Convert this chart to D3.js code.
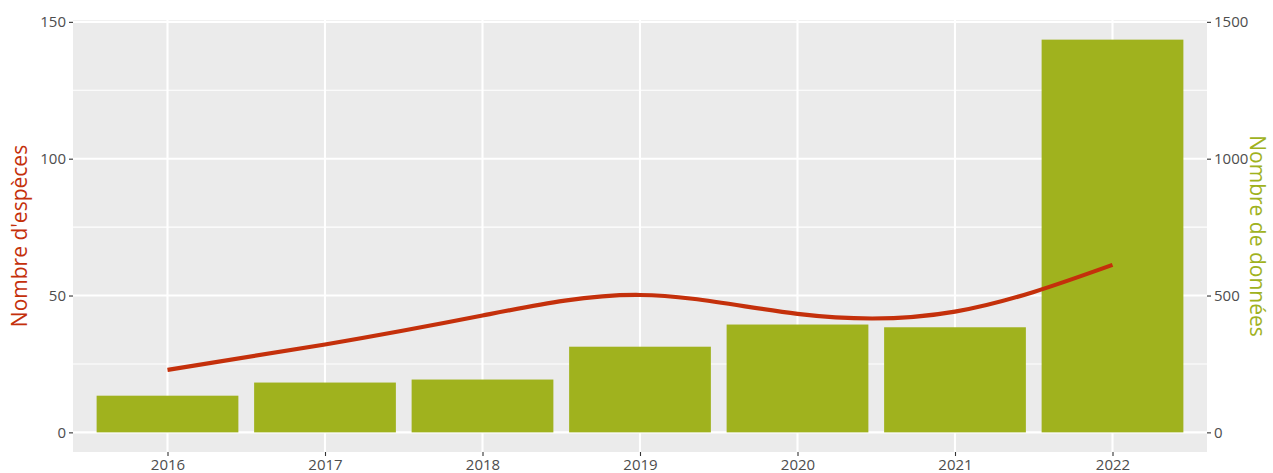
<!DOCTYPE html>
<html>
<head>
<meta charset="utf-8">
<script src="https://cdn.jsdelivr.net/npm/d3@7"></script>
<style>
    body { margin: 0; background: #fff; }
    .chart text { font-family: "Open Sans", sans-serif; }
</style>
</head>
<body>
<div class="chart"></div>
<script>
// values
const years = ["2016", "2017", "2018", "2019", "2020", "2021", "2022"];
const nbDonnees = [134, 182, 193, 313, 394, 384, 1435];
const nbEspeces = [22.8, 32.1, 42.7, 50.2, 43.3, 44.1, 61.2];
const leftTicks = [0, 50, 100, 150];
const rightTicks = [0, 500, 1000, 1500];

const width = 1273, height = 473;
const margin = {top: 20, right: 66, bottom: 21, left: 73};
const innerW = width - margin.left - margin.right,
    innerH = height - margin.top - margin.bottom;

const RED = "#c4300b", GREEN = "#a0b21e";

const svg = d3.select(".chart").append("svg")
    .attr("width", width).attr("height", height);

const g = svg.append("g").attr("transform", "translate(" + margin.left + "," + margin.top + ")");

// discrete x, ggplot style expansion (0.6 of a step on each side)
const n = years.length;
const step = innerW / (n - 1 + 1.2);
const x = d3.scalePoint().domain(years).range([0.6 * step, innerW - 0.6 * step]);

// right axis is left * 10, 5% expansion round the bars
const maxD = d3.max(nbDonnees);
const yRight = d3.scaleLinear().domain([-0.05 * maxD, maxD * 1.05]).range([innerH, 0]);
const yLeft = d3.scaleLinear().domain(yRight.domain().map(d => d / 10)).range([innerH, 0]);

g.append("rect").attr("width", innerW).attr("height", innerH).attr("fill", "#ebebeb");

// minor grid
const minor = [25, 75, 125];
g.append("g").selectAll("line").data(minor).enter().append("line")
    .attr("x1", 0).attr("x2", innerW)
    .attr("y1", d => yLeft(d)).attr("y2", d => yLeft(d))
    .attr("stroke", "#fff").attr("stroke-width", 1.1);

// major grid
g.append("g").selectAll("line").data(leftTicks).enter().append("line")
    .attr("x1", 0).attr("x2", innerW)
    .attr("y1", d => yLeft(d)).attr("y2", d => yLeft(d))
    .attr("stroke", "#fff").attr("stroke-width", 2.1);
g.append("g").selectAll("line").data(years).enter().append("line")
    .attr("x1", d => x(d)).attr("x2", d => x(d))
    .attr("y1", 0).attr("y2", innerH)
    .attr("stroke", "#fff").attr("stroke-width", 2.1);

// bars
const barW = step * 0.9;
g.append("g").selectAll("rect").data(years).enter().append("rect")
    .attr("x", d => x(d) - barW / 2)
    .attr("y", (d, i) => yRight(nbDonnees[i]))
    .attr("width", barW)
    .attr("height", (d, i) => yRight(0) - yRight(nbDonnees[i]))
    .attr("fill", GREEN);

// species line
const line = d3.line()
    .x((d, i) => x(years[i]))
    .y(d => yLeft(d))
    .curve(d3.curveNatural);
g.append("path").datum(nbEspeces)
    .attr("d", line)
    .attr("fill", "none")
    .attr("stroke", RED)
    .attr("stroke-width", 4.2);

// axes
function styleAxis(sel) {
    sel.select(".domain").remove();
    sel.selectAll(".tick line").attr("stroke", "#333").attr("stroke-width", 1.1);
    sel.selectAll(".tick text").attr("fill", "#4d4d4d").attr("font-size", "15px");
}

g.append("g")
    .attr("transform", "translate(0," + innerH + ")")
    .call(d3.axisBottom(x).tickSize(4).tickPadding(3))
    .call(styleAxis);

g.append("g")
    .call(d3.axisLeft(yLeft).tickValues(leftTicks).tickSize(4).tickPadding(3))
    .call(styleAxis);

g.append("g")
    .attr("transform", "translate(" + innerW + ",0)")
    .call(d3.axisRight(yRight).tickValues(rightTicks).tickFormat(d3.format("d")).tickSize(4).tickPadding(3))
    .call(styleAxis);

// titles
svg.append("text")
    .attr("transform", "translate(27," + (margin.top + innerH / 2) + ") rotate(-90)")
    .attr("text-anchor", "middle")
    .attr("fill", RED)
    .attr("font-size", "21px")
    .text("Nombre d'espèces");

svg.append("text")
    .attr("transform", "translate(1250," + (margin.top + innerH / 2) + ") rotate(90)")
    .attr("text-anchor", "middle")
    .attr("fill", GREEN)
    .attr("font-size", "21px")
    .text("Nombre de données");
</script>
</body>
</html>
